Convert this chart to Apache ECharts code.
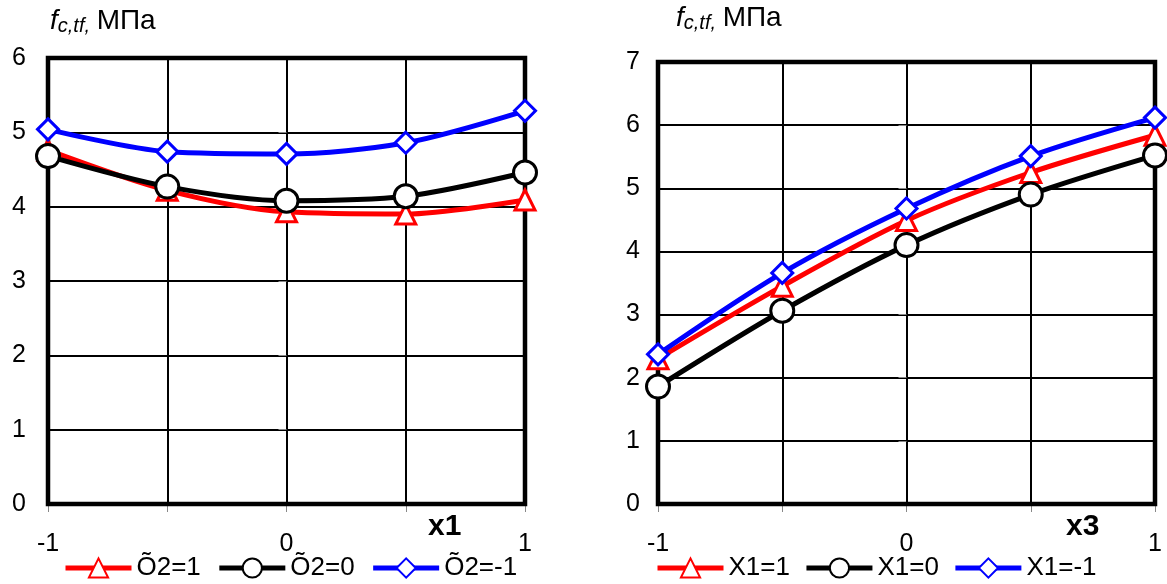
<!DOCTYPE html>
<html>
<head>
<meta charset="utf-8">
<script src="https://cdn.jsdelivr.net/npm/echarts@6/dist/echarts.min.js"></script>
<style>
  html, body { margin: 0; padding: 0; background: #fff; }
  #chart { width: 1167px; height: 584px; }
</style>
</head>
<body>
<div id="chart"></div>
<script>
// Factor levels along the horizontal axes
const xLevels = [-1, -0.5, 0, 0.5, 1];

// Left panel: strength vs x1 for three levels of X2
const leftNames = ['Õ2=1', 'Õ2=0', 'Õ2=-1'];
const leftX2p1 = [4.76, 4.22, 3.93, 3.90, 4.09];
const leftX2z = [4.68, 4.27, 4.08, 4.14, 4.46];
const leftX2m1 = [5.04, 4.74, 4.71, 4.86, 5.29];

// Right panel: strength vs x3 for three levels of X1
const rightNames = ['X1=1', 'X1=0', 'X1=-1'];
const rightX1p1 = [2.30, 3.45, 4.49, 5.25, 5.84];
const rightX1z = [1.86, 3.06, 4.10, 4.90, 5.52];
const rightX1m1 = [2.37, 3.66, 4.68, 5.51, 6.12];

const leftYTicks = { min: 0, max: 6, interval: 1 };
const rightYTicks = { min: 0, max: 7, interval: 1 };

const colors = ['#ff0000', '#000000', '#0000ff'];
const symbols = ['triangle', 'circle', 'diamond'];
const symbolSizes = [20, 23, 21];
const FONT = '"Liberation Sans", Arial, sans-serif';

function pairs(ys) { return xLevels.map((x, i) => [x, ys[i]]); }

function makeSeries(names, arrays, idx) {
  return arrays.map((ys, k) => ({
    name: names[k],
    type: 'line',
    xAxisIndex: idx, yAxisIndex: idx,
    data: pairs(ys),
    smooth: 0.3,
    symbol: symbols[k],
    symbolSize: symbolSizes[k],
    lineStyle: { color: colors[k], width: 5 },
    itemStyle: { color: '#fff', borderColor: colors[k], borderWidth: 3 },
    z: 3 + k
  }));
}

function xAxis(idx) {
  return {
    type: 'value', gridIndex: idx, min: -1, max: 1, interval: 0.5,
    axisLine: { show: false },
    axisTick: { show: true, length: 8, lineStyle: { color: '#888', width: 1 } },
    splitLine: { show: true, lineStyle: { color: '#000', width: 2 } },
    axisLabel: {
      margin: 28, fontFamily: FONT, fontSize: 25, color: '#000',
      formatter: v => (Number.isInteger(v) ? String(v) : '')
    }
  };
}

function yAxis(idx, t, margin) {
  return {
    type: 'value', gridIndex: idx, min: t.min, max: t.max, interval: t.interval,
    axisLine: { show: false },
    axisTick: { show: true, length: 8, lineStyle: { color: '#888', width: 1 } },
    splitLine: { show: true, lineStyle: { color: '#000', width: 2 } },
    axisLabel: { margin: margin, fontFamily: FONT, fontSize: 25, color: '#000' }
  };
}

const titleRich = {
  f: { fontFamily: FONT, fontSize: 28, fontStyle: 'italic', color: '#000' },
  s: { fontFamily: FONT, fontSize: 20, fontStyle: 'italic', color: '#000', padding: [10, 0, 0, 0] },
  u: { fontFamily: FONT, fontSize: 28, color: '#000' }
};

const legendCommon = {
  top: 550, itemWidth: 66, itemHeight: 24,
  lineStyle: { width: 5 },
  textStyle: { fontFamily: FONT, fontSize: 26, color: '#000' }
};

const chart = echarts.init(document.getElementById('chart'), null, { renderer: 'canvas' });
chart.setOption({
  animation: false,
  backgroundColor: '#fff',
  grid: [
    { left: 48, right: 642, top: 58, bottom: 80, show: true, borderColor: '#000', borderWidth: 4.5, backgroundColor: 'transparent', z: 2 },
    { left: 658, right: 12, top: 62, bottom: 80, show: true, borderColor: '#000', borderWidth: 4.5, backgroundColor: 'transparent', z: 2 }
  ],
  xAxis: [xAxis(0), xAxis(1)],
  yAxis: [yAxis(0, leftYTicks, 22), yAxis(1, rightYTicks, 18)],
  legend: [
    Object.assign({ data: leftNames, left: 58, itemGap: 16 }, legendCommon),
    Object.assign({ data: rightNames, left: 650, itemGap: 14 }, legendCommon)
  ],
  graphic: [
    { type: 'text', left: 50, top: 7, style: { text: '{f|f}{s|c,tf,}  {u|МПа}', rich: titleRich } },
    { type: 'text', left: 676, top: 4, style: { text: '{f|f}{s|c,tf,}  {u|МПа}', rich: titleRich } },
    { type: 'text', left: 428, top: 512, style: { text: 'x1', font: 'bold 30px ' + FONT, fill: '#000' } },
    { type: 'text', left: 1066, top: 512, style: { text: 'x3', font: 'bold 30px ' + FONT, fill: '#000' } }
  ],
  series: [
    ...makeSeries(leftNames, [leftX2p1, leftX2z, leftX2m1], 0),
    ...makeSeries(rightNames, [rightX1p1, rightX1z, rightX1m1], 1)
  ]
});
</script>
</body>
</html>
